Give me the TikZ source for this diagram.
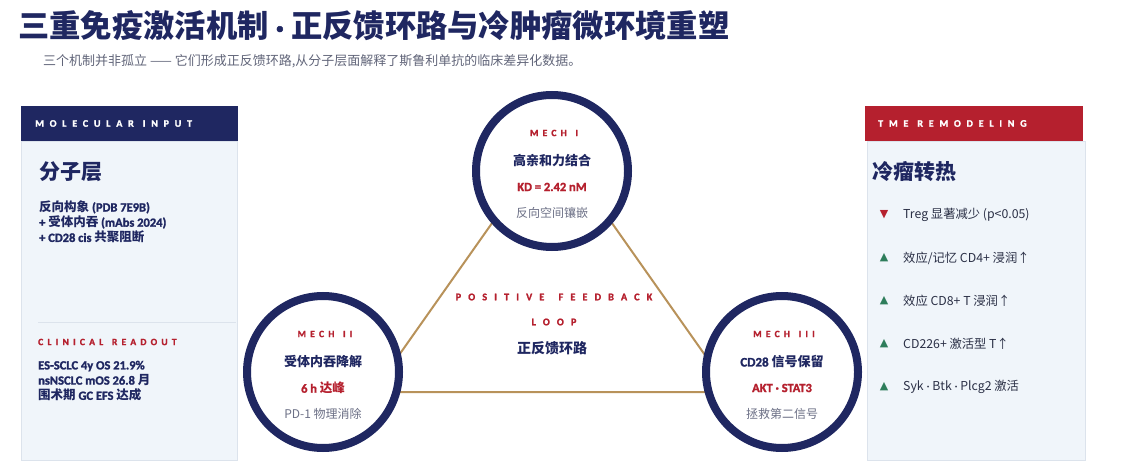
\documentclass[tikz,border=0pt]{standalone}
\usepackage{fontspec}
\setmainfont{Noto Sans CJK SC}
\newfontfamily\lat{Carlito}[Extension=.ttf, UprightFont=*-Regular, BoldFont=*-Bold, BoldFeatures={FakeBold=1.6}]
\newfontfamily\hdrfont{Carlito}[Extension=.ttf, UprightFont=*-Regular, BoldFont=*-Bold, BoldFeatures={FakeBold=1.6}, LetterSpace=58]
\newfontfamily\tagfont{Carlito}[Extension=.ttf, UprightFont=*-Regular, BoldFont=*-Bold, BoldFeatures={FakeBold=1.6}, LetterSpace=44]
\newfontfamily\loopfont{Carlito}[Extension=.ttf, UprightFont=*-Regular, BoldFont=*-Bold, BoldFeatures={FakeBold=1.6}, LetterSpace=70]
\newfontfamily\symfont{DejaVu Sans}
\newcommand{\en}[1]{{\lat #1}}
\usepackage{xcolor}
\usepackage{tikz}
\usetikzlibrary{positioning}

\definecolor{navy}{HTML}{1F2761}
\definecolor{crimson}{HTML}{B5202E}
\definecolor{gold}{HTML}{B8925A}
\definecolor{paper}{HTML}{F0F5FA}
\definecolor{rulegray}{HTML}{DCE3EC}
\definecolor{muted}{HTML}{6C7086}
\definecolor{ink}{HTML}{2B3046}
\definecolor{leaf}{HTML}{2E7D5B}

\begin{document}
\begin{tikzpicture}[x=1pt, y=-1pt,
  txt/.style={inner sep=0pt, anchor=west},
  ttl/.style={txt, font=\fontsize{31.3}{36}\selectfont\bfseries, text=navy},
  subttl/.style={txt, font=\fontsize{13}{15}\selectfont, text=muted!90!black},
  hdrlbl/.style={txt, font=\fontsize{10}{12}\selectfont\hdrfont\bfseries, text=white},
  head/.style={txt, font=\fontsize{21}{24}\selectfont\bfseries, text=navy},
  body/.style={txt, align=left, font=\fontsize{12.5}{15.2}\selectfont\bfseries, text=navy},
  item/.style={txt, font=\fontsize{12.3}{14}\selectfont, text=ink},
  tri/.style={inner sep=0pt, font=\symfont\fontsize{11}{11}\selectfont},
  mech/.style={circle, draw=navy, line width=8pt, fill=white, minimum size=152pt, inner sep=0pt},
  mechtag/.style={inner sep=0pt, font=\fontsize{9.6}{11}\selectfont\tagfont\bfseries, text=crimson},
  looptag/.style={inner sep=0pt, font=\fontsize{10.2}{12}\selectfont\loopfont\bfseries, text=crimson},
  mechname/.style={inner sep=0pt, font=\fontsize{13}{15}\selectfont\bfseries, text=navy},
  mechval/.style={inner sep=0pt, font=\fontsize{12.5}{15}\selectfont\bfseries, text=crimson},
  mechnote/.style={inner sep=0pt, font=\fontsize{12}{14}\selectfont, text=muted},
  fb/.style={draw=gold, line width=2pt}]
\useasboundingbox (0,0) rectangle (1123,470);

% title
\node[ttl] (title) at (18,26) {三重免疫激活机制\en{ · }正反馈环路与冷肿瘤微环境重塑};
\node[subttl] (subtitle) at (43,61) {三个机制并非孤立 —— 它们形成正反馈环路,从分子层面解释了斯鲁利单抗的临床差异化数据。};

% left panel: molecular input
\filldraw[fill=paper, draw=rulegray] (21,141) rectangle (237,460);
\fill[navy] (21,106) rectangle (238,141);
\node[hdrlbl] (lcap) at (35,123.5) {MOLECULAR\hspace{0.9em}INPUT};
\node[head] (lhead) at (39,172) {分子层};
\node[body] (linput) at (39,222) {反向构象\en{ (PDB 7E9B)}\\\en{+ }受体内吞\en{ (mAbs 2024)}\\\en{+ CD28 cis }共聚阻断};
\draw[rulegray, line width=1pt] (38,322) -- (236,322);
\node[hdrlbl, font=\fontsize{9.6}{11}\selectfont\tagfont\bfseries, text=crimson] (lread) at (38,342) {CLINICAL\hspace{0.9em}READOUT};
\node[body] (lout) at (38,381) {\en{ES-SCLC 4y OS 21.9\%}\\\en{nsNSCLC mOS 26.8 }月\\围术期\en{ GC EFS }达成};

% right panel: TME remodeling
\filldraw[fill=paper, draw=rulegray] (867,141) rectangle (1085,460);
\fill[crimson] (865,106) rectangle (1083,141);
\node[hdrlbl] (rcap) at (878,123.5) {TME\hspace{0.9em}REMODELING};
\node[head] (rhead) at (872,172) {冷瘤转热};
\node[tri, text=crimson] (r1m) at (884,215) {▼};
\node[item] (r1) at (903,215) {Treg 显著减少 (p<0.05)};
\node[tri, text=leaf] (r2m) at (884,258) {▲};
\node[item] (r2) at (903,258) {效应/记忆 CD4+ 浸润↑};
\node[tri, text=leaf] (r3m) at (884,301) {▲};
\node[item] (r3) at (903,301) {效应 CD8+ T 浸润↑};
\node[tri, text=leaf] (r4m) at (884,344) {▲};
\node[item] (r4) at (903,344) {CD226+ 激活型 T↑};
\node[tri, text=leaf] (r5m) at (884,387) {▲};
\node[item] (r5) at (903,387) {Syk\en{ · }Btk\en{ · }Plcg2 激活};

% feedback triangle
\coordinate (ta) at (552,138);
\coordinate (tb) at (373,392);
\coordinate (tc) at (731,392);
\draw[fb] (ta) -- (tb) -- (tc) -- cycle;

\node[looptag] (loopa) at (554,297) {POSITIVE\hspace{1.4em}FEEDBACK};
\node[looptag] (loopb) at (554,322) {LOOP};
\node[mechname, font=\fontsize{14}{16}\selectfont\bfseries] (loopc) at (552,348) {正反馈环路};

% mechanisms
\node[mech] (m1) at (552,171) {};
\node[mech] (m2) at (323,372) {};
\node[mech] (m3) at (782,372) {};

\node[mechtag] (m1t) at ([xshift=2,yshift=38]m1.center) {MECH\hspace{0.9em}I};
\node[mechname] (m1n) at ([yshift=10.5]m1.center) {高亲和力结合};
\node[mechval] (m1v) at ([yshift=-16]m1.center) {\en{KD = 2.42 nM}};
\node[mechnote] (m1x) at ([yshift=-42]m1.center) {反向空间镶嵌};

\node[mechtag] (m2t) at ([xshift=2,yshift=38]m2.center) {MECH\hspace{0.9em}II};
\node[mechname] (m2n) at ([yshift=10.5]m2.center) {受体内吞降解};
\node[mechval] (m2v) at ([yshift=-16]m2.center) {\en{6 h }达峰};
\node[mechnote] (m2x) at ([yshift=-42]m2.center) {PD-1 物理消除};

\node[mechtag] (m3t) at ([xshift=2,yshift=38]m3.center) {MECH\hspace{0.9em}III};
\node[mechname] (m3n) at ([yshift=10.5]m3.center) {\en{CD28 }信号保留};
\node[mechval] (m3v) at ([yshift=-16]m3.center) {\en{AKT · STAT3}};
\node[mechnote] (m3x) at ([yshift=-42]m3.center) {拯救第二信号};
\end{tikzpicture}
\end{document}
